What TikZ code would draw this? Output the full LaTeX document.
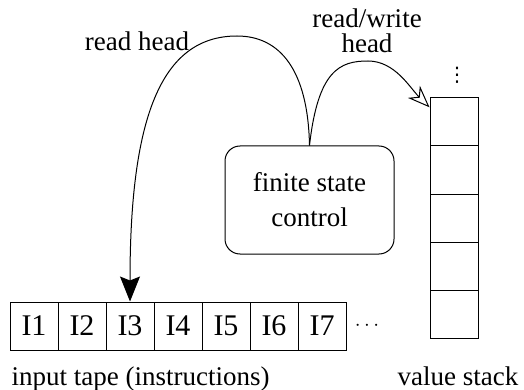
\documentclass[tikz,border=0pt]{standalone}
\usepackage{fontspec}
\setmainfont{Liberation Serif}
\newfontfamily\symfont{DejaVu Sans}
\usetikzlibrary{arrows.meta,calc}
\begin{document}
\begin{tikzpicture}[x=1pt,y=-1pt,
  every node/.style={font=\fontsize{27}{35}\selectfont},
  cell/.style={draw, line width=1pt, minimum size=48pt, inner sep=0pt, font=\fontsize{30}{36}\selectfont},
  conn/.style={line width=1pt},
  fillhead/.style={-{Stealth[length=25pt,width=20pt,inset=4pt]}},
  openhead/.style={-{Stealth[length=22pt,width=17pt,inset=7pt,open,fill=white]}}]
\useasboundingbox (0,0) rectangle (524,390);
% tape
\foreach \i in {1,...,7}{
  \node[cell] (t\i) at ({10+48*\i-24},326) {I\i};
}
\node[font=\fontsize{20}{24}\selectfont] (tdots) at (367,326) {$\cdots$};
\node[anchor=base west] (tlabel) at (8,385) {input tape (instructions)};
% stack
\foreach \i in {1,...,5}{
  \node[cell] (s\i) at (454,{98+48*\i-24}) {};
}
\node[inner sep=0pt, font=\symfont\fontsize{20}{24}\selectfont] (sdots) at (457,75) {⋮};
\node[anchor=base] (slabel) at (458,385) {value stack};
% control
\node[draw, line width=1pt, rounded corners=15pt, minimum width=169pt, minimum height=108pt, align=center, inner sep=0pt] (fsc) at (309.5,200) {finite state\\control};
% curves
\coordinate (p1) at (237,36);
\coordinate (p2) at (368,61);
\draw[conn,fillhead] (fsc.north) .. controls (308,70) and (280,36) .. (p1)
  .. controls (160,36) and (130,120) .. (t3.north);
\draw[conn,openhead] (fsc.north) .. controls (318,70) and (340,61) .. (p2)
  .. controls (395,61) and (410,88) .. ($(s1.north west)!0.2!(s1.south west)$);
% labels
\node (rh) at (137,41) {read head};
\node[align=center, font=\fontsize{27}{25}\selectfont] (rwh) at (367,31) {read/write\\head};
\end{tikzpicture}
\end{document}
